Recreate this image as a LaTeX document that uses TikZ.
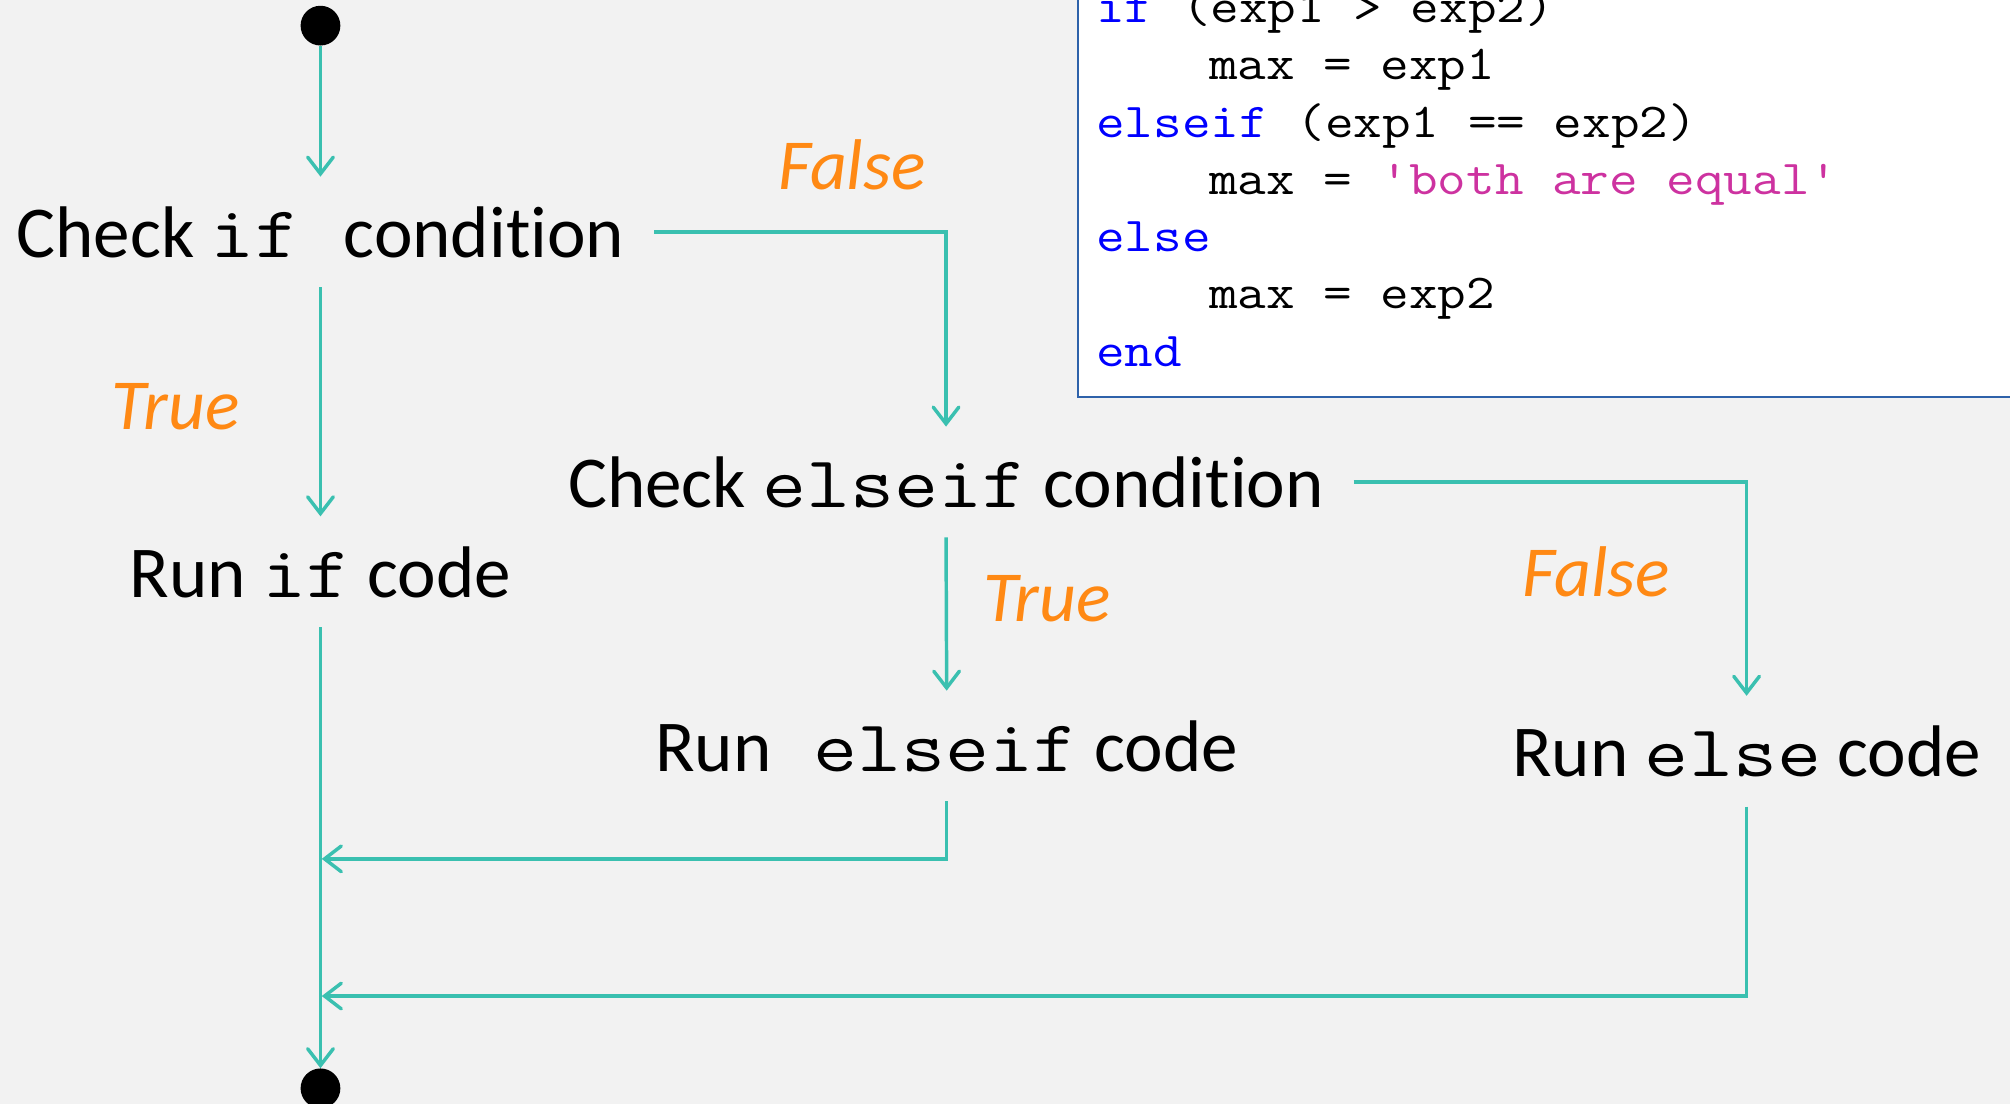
\documentclass[tikz,border=0pt]{standalone}
\usepackage{fontspec}
\setmainfont{Carlito}[Ligatures=NoCommon]
\usepackage{graphicx}
\usetikzlibrary{arrows.meta}
\definecolor{bgc}{RGB}{242,242,242}
\definecolor{tealc}{RGB}{58,192,176}
\definecolor{orng}{RGB}{255,137,20}
\definecolor{boxblue}{RGB}{46,98,170}
\definecolor{kwblue}{RGB}{0,0,255}
\definecolor{strmag}{RGB}{205,50,160}
\newcommand\cwL[1]{\scalebox{1.17}[1]{\ttfamily #1}}
\newcommand\cwC[1]{\scalebox{1.14}[1]{\ttfamily\fontsize{38}{40}\selectfont #1}}
\tikzset{
  lbl/.style={anchor=base, font=\fontsize{57}{60}\selectfont, text height=40pt, text depth=0pt, inner sep=23pt},
  cond/.style={anchor=base, font=\fontsize{56}{58}\selectfont\itshape, text=orng, inner sep=0pt},
  dotnode/.style={circle, fill=black, minimum size=31pt, inner sep=0pt},
  flow/.style={draw=tealc, line width=2.7pt, -{Straight Barb[length=13pt,width=20pt,line cap=round]}},
  codeln/.style={anchor=base west, inner sep=0pt}
}
\begin{document}
\begin{tikzpicture}[x=1pt,y=-1pt]
\useasboundingbox (0,0) rectangle (1568,861);
\fill[bgc] (0,0) rectangle (1568,861);

% code box
\draw[boxblue, line width=1.6pt, fill=white] (841,-10) rectangle (1590,310);
\node[codeln] (c1) at (855,17.5) {\cwC{\textcolor{kwblue}{if} (exp1 > exp2)}};
\node[codeln] (c2) at (943,62.2) {\cwC{max = exp1}};
\node[codeln] (c3) at (855,106.9) {\cwC{\textcolor{kwblue}{elseif} (exp1 == exp2)}};
\node[codeln] (c4) at (943,151.6) {\cwC{max = \textcolor{strmag}{'both are equal'}}};
\node[codeln] (c5) at (855,196.3) {\cwC{\textcolor{kwblue}{else}}};
\node[codeln] (c6) at (943,241) {\cwC{max = exp2}};
\node[codeln] (c7) at (855,285.7) {\cwC{\textcolor{kwblue}{end}}};

% dots
\node[dotnode] (dt) at (250,20) {};
\node[dotnode] (db) at (250,849) {};

% labels
\node[lbl] (A) at (250,201) {Check \cwL{if}\hspace*{22pt} condition};
\node[lbl] (B) at (250,466) {Run \cwL{if} code};
\node[lbl] (C) at (738,396) {Check \cwL{elseif} condition};
\node[lbl] (D) at (738.5,602) {Run \hspace*{20pt}\cwL{elseif} code};
\node[lbl] (E) at (1362.5,606) {Run \cwL{else} code};

\coordinate (j1) at (251,670);
\coordinate (j2) at (251,777);

% connectors
\draw[flow] (dt) -- (A.north);
\draw[flow] (A.east) -| (C.north);
\draw[flow] (A.south) -- (B.north);
\draw[flow] (C.east) -| (E.north);
\draw[flow] (C.south) -- (D.north);
\draw[flow] (B.south) -- (db.north);
\draw[flow] (D.south) |- (j1);
\draw[flow] (E.south) |- (j2);

% condition labels
\node[cond] (f1) at (664.5,148) {False};
\node[cond] (t1) at (137,335) {True};
\node[cond] (t2) at (816.5,485) {True};
\node[cond] (f2) at (1245,465) {False};
\end{tikzpicture}
\end{document}
